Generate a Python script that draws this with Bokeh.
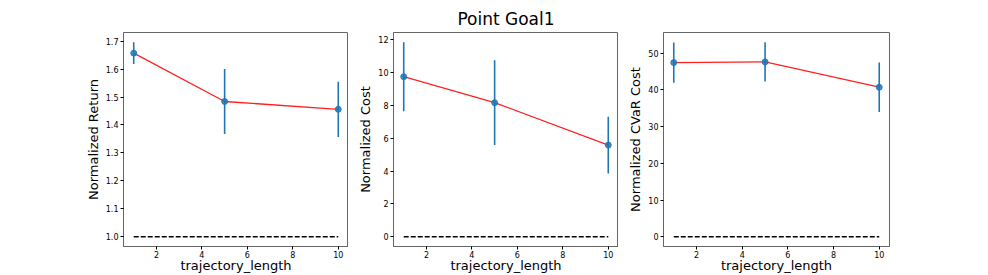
from bokeh.plotting import figure
from bokeh.layouts import row
from bokeh.models import Range1d, FixedTicker, NumeralTickFormatter
from bokeh.embed import file_html
from bokeh.resources import INLINE

# ---- data ----
x_vals = [1, 5, 10]
return_mean = [1.657, 1.484, 1.456]
return_err = [0.039, 0.116, 0.099]
cost_mean = [9.74, 8.16, 5.58]
cost_err = [2.10, 2.58, 1.73]
cvar_mean = [47.4, 47.6, 40.7]
cvar_err = [5.45, 5.35, 6.75]
return_base = 1.0
cost_base = 0.0
cvar_base = 0.0
x_ticks = [2, 4, 6, 8, 10]
return_ticks = [1.0, 1.1, 1.2, 1.3, 1.4, 1.5, 1.6, 1.7]
cost_ticks = [0, 2, 4, 6, 8, 10, 12]
cvar_ticks = [0, 10, 20, 30, 40, 50]
x_label = "trajectory_length"
title_text = "Point Goal1"

FONT = "DejaVu Sans"
H = 275


def padded(lo, hi, frac=0.05):
    span = hi - lo
    return lo - span * frac, hi + span * frac


def make_panel(mean, err, base, yticks, ylabel, fmt, width, left, right, title=None):
    lows = [m - e for m, e in zip(mean, err)]
    highs = [m + e for m, e in zip(mean, err)]
    xlo, xhi = padded(min(x_vals), max(x_vals))
    ylo, yhi = padded(min(min(lows), base), max(max(highs), base))
    p = figure(width=width, height=H, output_backend="svg", toolbar_location=None,
               x_range=Range1d(xlo, xhi), y_range=Range1d(ylo, yhi),
               min_border_left=left, min_border_right=right, min_border_top=32,
               min_border_bottom=0, title=title)
    p.background_fill_color = "white"
    p.border_fill_color = "white"
    p.outline_line_color = "#666666"
    p.outline_line_width = 1
    p.outline_line_alpha = 1
    p.grid.visible = False
    for ax in (p.xaxis, p.yaxis):
        ax.axis_line_color = "#666666"
        ax.major_tick_out = 3
        ax.major_tick_in = 0
        ax.minor_tick_line_color = None
        ax.major_tick_line_color = "black"
        ax.major_label_text_font = FONT
        ax.major_label_text_font_size = "8px"
        ax.major_label_text_color = "black"
        ax.major_label_standoff = 2
        ax.axis_label_text_font = FONT
        ax.axis_label_text_font_size = "13px"
        ax.axis_label_text_font_style = "normal"
        ax.axis_label_text_color = "black"
        ax.axis_label_standoff = 2
    p.xaxis.major_label_standoff = 1
    p.xaxis.axis_label_standoff = -3
    p.xaxis.ticker = FixedTicker(ticks=x_ticks)
    p.yaxis.ticker = FixedTicker(ticks=yticks)
    p.yaxis.formatter = NumeralTickFormatter(format=fmt)
    p.xaxis.formatter = NumeralTickFormatter(format="0")
    p.xaxis.axis_label = x_label
    p.yaxis.axis_label = ylabel

    # baseline
    p.line([min(x_vals), max(x_vals)], [base, base], line_color="black",
           line_width=1.3, line_dash="5 2")
    # mean line
    p.line(x_vals, mean, line_color="#ff2020", line_width=1.3)
    # error bars
    p.segment(x0=x_vals, y0=lows, x1=x_vals, y1=highs, line_color="#1f77b4", line_width=1.6)
    # markers
    p.scatter(x_vals, mean, size=6, fill_color="#1f77b4", line_color="#1f77b4",
              fill_alpha=0.85, line_alpha=0.85)
    if title is not None:
        p.title.align = "center"
        p.title.offset = -20
        p.title.text_font = FONT
        p.title.text_font_size = "17px"
        p.title.text_font_style = "normal"
        p.title.text_color = "black"
        p.title.standoff = 8
    return p


p1 = make_panel(return_mean, return_err, return_base, return_ticks, "Normalized Return",
                "0.0", 348, 123, 0)
p2 = make_panel(cost_mean, cost_err, cost_base, cost_ticks, "Normalized Cost",
                "0", 270, 45, 0, title=title_text)
p3 = make_panel(cvar_mean, cvar_err, cvar_base, cvar_ticks, "Normalized CVaR Cost",
                "0", 291, 45, 20)

layout = row(p1, p2, p3)
open("out.html", "w").write(file_html(layout, INLINE))
